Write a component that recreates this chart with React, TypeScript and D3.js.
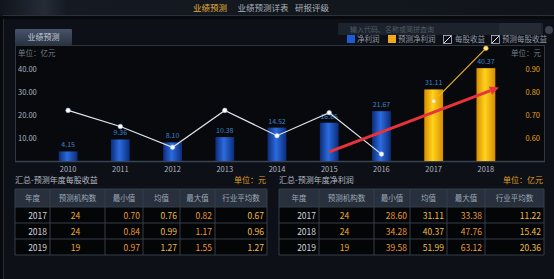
import React from "react";
import * as d3 from "d3";

const years = ["2010", "2011", "2012", "2013", "2014", "2015", "2016", "2017", "2018"];
const histYears = ["2010", "2011", "2012", "2013", "2014", "2015", "2016"];
const netProfit = [4.15, 9.36, 8.1, 10.38, 14.52, 16.65, 21.67];
const histEps = [0.72, 0.65, 0.56, 0.72, 0.61, 0.71, 0.53];
const fcYears = ["2017", "2018"];
const fcProfit = [31.11, 40.37];
const fcEps = [0.76, 0.99];
const leftTicks = [10, 20, 30, 40];
const rightTicks = [0.6, 0.7, 0.8, 0.9];

const tableYears = ["2017", "2018", "2019"];
const orgCounts = [24, 24, 19];
const epsMin = [0.7, 0.84, 0.97];
const epsMean = [0.76, 0.99, 1.27];
const epsMax = [0.82, 1.17, 1.55];
const epsIndustry = [0.67, 0.96, 1.27];
const profitMin = [28.6, 34.28, 39.58];
const profitMean = [31.11, 40.37, 51.99];
const profitMax = [33.38, 47.76, 63.12];
const profitIndustry = [11.22, 15.42, 20.36];
const tableHeaders = ["年度", "预测机构数", "最小值", "均值", "最大值", "行业平均数"];

const FONT = "'Noto Sans CJK SC', 'Noto Sans', sans-serif";

function Table({ x0, cols, title, unit, minV, meanV, maxV, indV }) {
  const top = 189;
  const hh = 18;
  const rh = 16;
  const x1 = cols[cols.length - 1];
  const orange = "#e99a3a";
  const yellow = "#eebd48";
  const rows = tableYears.map((y, i) => [y, String(orgCounts[i]), minV[i].toFixed(2), meanV[i].toFixed(2), maxV[i].toFixed(2), indV[i].toFixed(2)]);
  const colors = ["#d0d5dc", "#eda92e", orange, yellow, orange, yellow];
  return (
    <g>
      <text x={x0} y={183} fontSize={8} fill="#b4bbc4" fontFamily={FONT}>{title}</text>
      <text x={x1 - 1} y={183} fontSize={8} fill="#e0a020" textAnchor="end" fontFamily={FONT}>{unit}</text>
      <rect x={cols[0]} y={top} width={x1 - cols[0]} height={hh} fill="#27303c" />
      <rect x={cols[0]} y={top + hh} width={x1 - cols[0]} height={rh * 3} fill="#040507" />
      {tableHeaders.map((h, j) => (
        <text key={h} x={(cols[j] + cols[j + 1]) / 2} y={top + 12} fontSize={7.5} fill="#9ea8b4" textAnchor="middle" fontFamily={FONT}>{h}</text>
      ))}
      {rows.map((r, i) => (
        <g key={i}>
          {r.map((v, j) => {
            const cy = top + hh + rh * i + 11.5;
            if (j === 1) return <text key={j} x={(cols[j] + cols[j + 1]) / 2 - 2} y={cy} fontSize={8.5} fill={colors[j]} textAnchor="middle" fontFamily={FONT}>{v}</text>;
            return <text key={j} x={cols[j + 1] - 3} y={cy} fontSize={8.5} fill={colors[j]} textAnchor="end" fontFamily={FONT}>{v}</text>;
          })}
        </g>
      ))}
      {[0, 1, 2, 3, 4].map((k) => (
        <line key={"h" + k} x1={cols[0]} x2={x1} y1={k === 0 ? top : top + hh + rh * (k - 1)} y2={k === 0 ? top : top + hh + rh * (k - 1)} stroke="#353e4a" strokeWidth={1} />
      ))}
      {cols.map((c, k) => (
        <line key={"v" + k} x1={c} x2={c} y1={top} y2={top + hh + rh * 3} stroke="#353e4a" strokeWidth={1} />
      ))}
    </g>
  );
}

export default function App() {
  const W = 554, H = 279;
  const plotL = 15, plotR = 545, plotT = 46, plotB = 161;
  const x = d3.scaleBand().domain(years).range([42, 512]).paddingInner(0.64).paddingOuter(0.32);
  const yL = d3.scaleLinear().domain([0, 50]).range([plotB, plotT]);
  const yR = d3.scaleLinear().domain([0.5, 1.0]).range([plotB, plotT]);
  const bw = x.bandwidth();
  const cx = (y) => x(y) + bw / 2;

  const histLine = d3.line().x((d) => cx(d[0])).y((d) => yR(d[1]))(histYears.map((y, i) => [y, histEps[i]]));
  const fcLine = d3.line().x((d) => cx(d[0])).y((d) => yR(d[1]))(fcYears.map((y, i) => [y, fcEps[i]]));

  // red annotation arrow, in data coordinates
  const ax0 = cx("2015"), ay0 = yL(4);
  const ax1 = cx("2018") + 13, ay1 = yL(32);
  const ang = Math.atan2(ay1 - ay0, ax1 - ax0);
  const hl = 9, hw = 4.5;
  const bx = ax1 - hl * Math.cos(ang), by = ay1 - hl * Math.sin(ang);
  const head = [
    [ax1, ay1],
    [bx + hw * Math.sin(ang), by - hw * Math.cos(ang)],
    [bx - hw * Math.sin(ang), by + hw * Math.cos(ang)],
  ].map((p) => p.join(",")).join(" ");

  return (
    <svg width={W} height={H} style={{ position: "absolute", left: 0, top: 0, display: "block" }} fontFamily={FONT}>
      <defs>
        <linearGradient id="blueBar" x1="0" x2="1" y1="0" y2="0">
          <stop offset="0" stopColor="#0c2c78" />
          <stop offset="0.45" stopColor="#2c6be0" />
          <stop offset="1" stopColor="#0c2c78" />
        </linearGradient>
        <linearGradient id="goldBar" x1="0" x2="1" y1="0" y2="0">
          <stop offset="0" stopColor="#d98c00" />
          <stop offset="0.45" stopColor="#ffd31c" />
          <stop offset="1" stopColor="#d98c00" />
        </linearGradient>
        <linearGradient id="topBar" x1="0" x2="1" y1="0" y2="0">
          <stop offset="0" stopColor="#10151c" />
          <stop offset="0.08" stopColor="#252c36" />
          <stop offset="0.12" stopColor="#151a22" />
          <stop offset="1" stopColor="#10141a" />
        </linearGradient>
        <linearGradient id="tabG" x1="0" x2="0" y1="0" y2="1">
          <stop offset="0" stopColor="#46536a" />
          <stop offset="1" stopColor="#2a3342" />
        </linearGradient>
      </defs>
      <rect x={0} y={0} width={W} height={H} fill="#07090c" />
      {/* top nav */}
      <rect x={0} y={0} width={W} height={16} fill="url(#topBar)" />
      <line x1={3} x2={W} y1={15.5} y2={15.5} stroke="#2a313b" />
      <text x={210} y={11} fontSize={8.5} fill="#e2ad36" textAnchor="middle">业绩预测</text>
      <text x={263} y={11} fontSize={8.5} fill="#a9b1bb" textAnchor="middle">业绩预测详表</text>
      <text x={312} y={11} fontSize={8.5} fill="#a9b1bb" textAnchor="middle">研报评级</text>
      {/* panel */}
      <rect x={3} y={19} width={W - 3} height={H - 19} fill="#0d1016" />
      <line x1={3.5} x2={3.5} y1={19} y2={H} stroke="#262d37" />
      {/* search box */}
      <rect x={338} y={23} width={205} height={12} fill="#1d232c" />
      <rect x={499} y={23} width={42} height={12} fill="#242b35" />
      <circle cx={549} cy={30} r={4} fill="#3a424d" />
      <text x={350} y={32} fontSize={7} fill="#535c67">输入代码、名称或简拼查询</text>
      {/* tab */}
      <rect x={15} y={29} width={57} height={16} fill="url(#tabG)" rx={1} />
      <text x={43.5} y={40} fontSize={8} fill="#c4ccd6" textAnchor="middle">业绩预测</text>
      <line x1={15} x2={plotR} y1={45.5} y2={45.5} stroke="#2f3641" />
      {/* legend */}
      <rect x={347} y={35} width={8} height={8} fill="#1d5ad6" />
      <text x={357} y={42} fontSize={7.5} fill="#939ca7">净利润</text>
      <rect x={388} y={35} width={8} height={8} fill="#f2a81c" />
      <text x={398} y={42} fontSize={7.5} fill="#939ca7">预测净利润</text>
      <rect x={443.5} y={35.5} width={8} height={8} fill="none" stroke="#b8bec6" strokeWidth={0.8} />
      <line x1={444} x2={451} y1={43} y2={36} stroke="#e8ecf0" strokeWidth={1} />
      <text x={455} y={42} fontSize={7.5} fill="#939ca7">每股收益</text>
      <rect x={491.5} y={35.5} width={8} height={8} fill="none" stroke="#b8bec6" strokeWidth={0.8} />
      <line x1={492} x2={499} y1={43} y2={36} stroke="#e8ecf0" strokeWidth={1} />
      <text x={502} y={42} fontSize={7.5} fill="#939ca7">预测每股收益</text>
      {/* plot area */}
      <rect x={plotL} y={plotT} width={plotR - plotL} height={plotB - plotT} fill="#07090d" />
      <line x1={plotL + 0.5} x2={plotL + 0.5} y1={plotT} y2={plotB} stroke="#2f3641" />
      <line x1={plotR - 0.5} x2={plotR - 0.5} y1={plotT} y2={plotB} stroke="#2f3641" />
      <line x1={plotL} x2={plotR} y1={plotB + 0.5} y2={plotB + 0.5} stroke="#3a4350" strokeWidth={1.5} />
      <text x={18} y={56} fontSize={7.5} fill="#737c87">单位：亿元</text>
      <text x={541} y={56} fontSize={7.5} fill="#737c87" textAnchor="end">单位：元</text>
      {leftTicks.map((t) => (
        <text key={t} x={18} y={yL(t) + 3} fontSize={7.5} fill="#aeb6c0">{t.toFixed(2)}</text>
      ))}
      {rightTicks.map((t) => (
        <text key={t} x={540} y={yR(t) + 3} fontSize={7.5} fill="#e0a01c" textAnchor="end">{t.toFixed(2)}</text>
      ))}
      {/* bars */}
      {histYears.map((y, i) => (
        <g key={y}>
          <rect x={x(y)} y={yL(netProfit[i])} width={bw} height={yL(0) - yL(netProfit[i])} fill="url(#blueBar)" />
          <text x={cx(y)} y={yL(netProfit[i]) - 4} fontSize={7} fill="#3f82c8" textAnchor="middle">{netProfit[i].toFixed(2)}</text>
        </g>
      ))}
      {fcYears.map((y, i) => (
        <g key={y}>
          <rect x={x(y)} y={yL(fcProfit[i])} width={bw} height={yL(0) - yL(fcProfit[i])} fill="url(#goldBar)" />
          <text x={cx(y)} y={yL(fcProfit[i]) - 4} fontSize={7} fill="#3f82c8" textAnchor="middle">{fcProfit[i].toFixed(2)}</text>
        </g>
      ))}
      {/* lines */}
      <path d={histLine} fill="none" stroke="#dfe6ee" strokeWidth={1.2} />
      {histYears.map((y, i) => (
        <circle key={y} cx={cx(y)} cy={yR(histEps[i])} r={2.3} fill="#ffffff" stroke="#a8c4e8" strokeWidth={0.6} />
      ))}
      <path d={fcLine} fill="none" stroke="#f0b21e" strokeWidth={1.2} />
      {fcYears.map((y, i) => (
        <circle key={y} cx={cx(y)} cy={yR(fcEps[i])} r={2.3} fill={i === 0 ? "#fff4d0" : "#ffe98a"} stroke="#f0b21e" strokeWidth={0.6} />
      ))}
      {/* annotation arrow */}
      <line x1={ax0} y1={ay0} x2={bx} y2={by} stroke="#e8333a" strokeWidth={3} />
      <polygon points={head} fill="#e8333a" />
      {/* x labels */}
      {years.map((y) => (
        <text key={y} x={cx(y)} y={172} fontSize={7.5} fill="#aeb6c0" textAnchor="middle">{y}</text>
      ))}
      <Table x0={15} cols={[15, 50, 105, 143, 180, 215, 267]} title="汇总-预测年度每股收益" unit="单位：元" minV={epsMin} meanV={epsMean} maxV={epsMax} indV={epsIndustry} />
      <Table x0={279} cols={[279, 319, 374, 410, 447, 485, 544]} title="汇总-预测年度净利润" unit="单位：亿元" minV={profitMin} meanV={profitMean} maxV={profitMax} indV={profitIndustry} />
    </svg>
  );
}
